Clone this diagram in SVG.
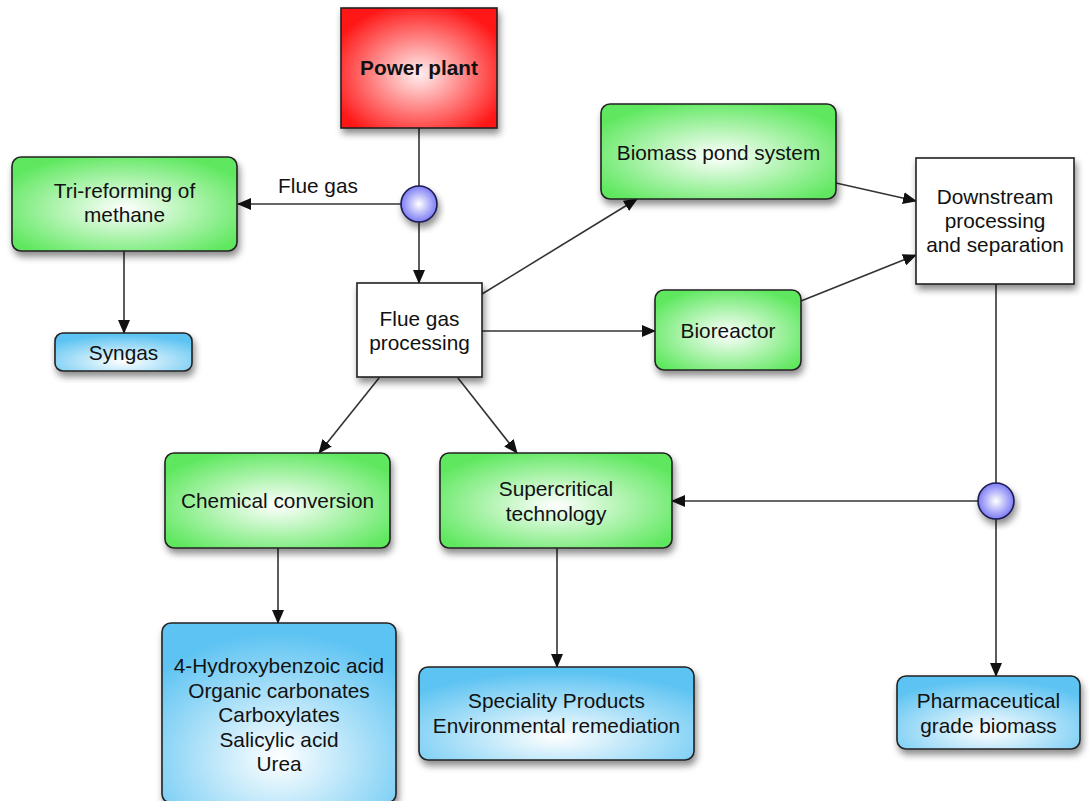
<svg xmlns="http://www.w3.org/2000/svg" width="1089" height="801" viewBox="0 0 1089 801">
<defs>
  <radialGradient id="gGreen" cx="0.5" cy="0.55" r="0.6">
    <stop offset="0" stop-color="#ffffff"/>
    <stop offset="1" stop-color="#5fe85f"/>
  </radialGradient>
  <radialGradient id="gRed" cx="0.5" cy="0.55" r="0.6">
    <stop offset="0" stop-color="#fff0f0"/>
    <stop offset="1" stop-color="#ff1414"/>
  </radialGradient>
  <radialGradient id="gBlue" cx="0.5" cy="0.75" r="0.7">
    <stop offset="0" stop-color="#ffffff"/>
    <stop offset="1" stop-color="#5cc3f2"/>
  </radialGradient>
  <radialGradient id="gBall" cx="0.5" cy="0.5" r="0.55">
    <stop offset="0" stop-color="#ffffff"/>
    <stop offset="1" stop-color="#6f6ff5"/>
  </radialGradient>
  <filter id="sh" x="-20%" y="-20%" width="140%" height="150%">
    <feDropShadow dx="2" dy="5" stdDeviation="3.5" flood-color="#000" flood-opacity="0.45"/>
  </filter>
  <marker id="arr" markerUnits="userSpaceOnUse" markerWidth="14" markerHeight="12" refX="13" refY="6" orient="auto">
    <path d="M0,0 L14,6 L0,12 Z" fill="#111"/>
  </marker>
</defs>
<style>
  text { font-family: "Liberation Sans", Arial, sans-serif; font-size: 20.8px; fill: #111; text-anchor: middle; }
  .bold { font-weight: bold; }
  .box { stroke: #222; stroke-width: 1.6; filter: url(#sh); }
  .green { fill: url(#gGreen); }
  .blue { fill: url(#gBlue); }
  .white { fill: #ffffff; }
  .red { fill: url(#gRed); }
  .ball { fill: url(#gBall); stroke: #1a1a50; stroke-width: 1.6; filter: url(#sh); }
  .conn line { stroke: #333; stroke-width: 1.6; fill: none; }
  .arrow { marker-end: url(#arr); }
</style>
<rect width="1089" height="801" fill="#ffffff"/>

<g id="connectors" class="conn">
  <line x1="419" y1="128" x2="419" y2="187"/>
  <line class="arrow" x1="401" y1="204" x2="238" y2="204"/>
  <line class="arrow" x1="419" y1="222" x2="419" y2="283"/>
  <line class="arrow" x1="124" y1="251" x2="124" y2="333"/>
  <line class="arrow" x1="482" y1="294" x2="637" y2="199"/>
  <line class="arrow" x1="482" y1="331" x2="655" y2="331"/>
  <line class="arrow" x1="836" y1="183" x2="916" y2="201"/>
  <line class="arrow" x1="801" y1="301" x2="916" y2="255"/>
  <line class="arrow" x1="379" y1="378" x2="319" y2="453"/>
  <line class="arrow" x1="458" y1="378" x2="517" y2="453"/>
  <line class="arrow" x1="278" y1="548" x2="278" y2="623"/>
  <line class="arrow" x1="557" y1="548" x2="557" y2="667"/>
  <line x1="996" y1="284" x2="996" y2="483"/>
  <line class="arrow" x1="978" y1="501" x2="672" y2="501"/>
  <line class="arrow" x1="996" y1="519" x2="996" y2="676"/>
</g>
<text id="label-flue-gas" x="318" y="193">Flue gas</text>

<g id="power-plant">
  <rect class="box red" x="341" y="8" width="156" height="120"/>
  <text class="bold" x="419" y="75">Power plant</text>
</g>
<g id="splitter-1">
  <circle class="ball" cx="419" cy="204" r="18"/>
</g>
<g id="tri-reforming">
  <rect class="box green" x="12" y="157" width="225" height="94" rx="9"/>
  <text x="124.5" y="198">Tri-reforming of</text>
  <text x="124.5" y="222">methane</text>
</g>
<g id="syngas">
  <rect class="box blue" x="55" y="333" width="137" height="38" rx="8"/>
  <text x="123.5" y="360">Syngas</text>
</g>
<g id="flue-gas-processing">
  <rect class="box white" x="357" y="283" width="125" height="94"/>
  <text x="419.5" y="326">Flue gas</text>
  <text x="419.5" y="350">processing</text>
</g>
<g id="biomass-pond">
  <rect class="box green" x="601" y="104" width="235" height="95" rx="9"/>
  <text x="718.5" y="160">Biomass pond system</text>
</g>
<g id="bioreactor">
  <rect class="box green" x="655" y="290" width="146" height="80" rx="9"/>
  <text x="728" y="338">Bioreactor</text>
</g>
<g id="downstream">
  <rect class="box white" x="916" y="158" width="158" height="126"/>
  <text x="995" y="204">Downstream</text>
  <text x="995" y="228">processing</text>
  <text x="995" y="252">and separation</text>
</g>
<g id="chemical-conversion">
  <rect class="box green" x="165" y="453" width="225" height="95" rx="9"/>
  <text x="277.5" y="508">Chemical conversion</text>
</g>
<g id="supercritical">
  <rect class="box green" x="440" y="453" width="232" height="95" rx="9"/>
  <text x="556" y="496">Supercritical</text>
  <text x="556" y="521">technology</text>
</g>
<g id="splitter-2">
  <circle class="ball" cx="996" cy="501" r="18"/>
</g>
<g id="chemicals">
  <rect class="box blue" x="162" y="623" width="234" height="180" rx="9"/>
  <text x="279" y="673">4-Hydroxybenzoic acid</text>
  <text x="279" y="697.5">Organic carbonates</text>
  <text x="279" y="722">Carboxylates</text>
  <text x="279" y="746.5">Salicylic acid</text>
  <text x="279" y="771">Urea</text>
</g>
<g id="speciality">
  <rect class="box blue" x="419" y="667" width="275" height="93" rx="9"/>
  <text x="556.5" y="708">Speciality Products</text>
  <text x="556.5" y="733">Environmental remediation</text>
</g>
<g id="pharmaceutical">
  <rect class="box blue" x="897" y="676" width="183" height="73" rx="9"/>
  <text x="988.5" y="708">Pharmaceutical</text>
  <text x="988.5" y="733">grade biomass</text>
</g>
</svg>
